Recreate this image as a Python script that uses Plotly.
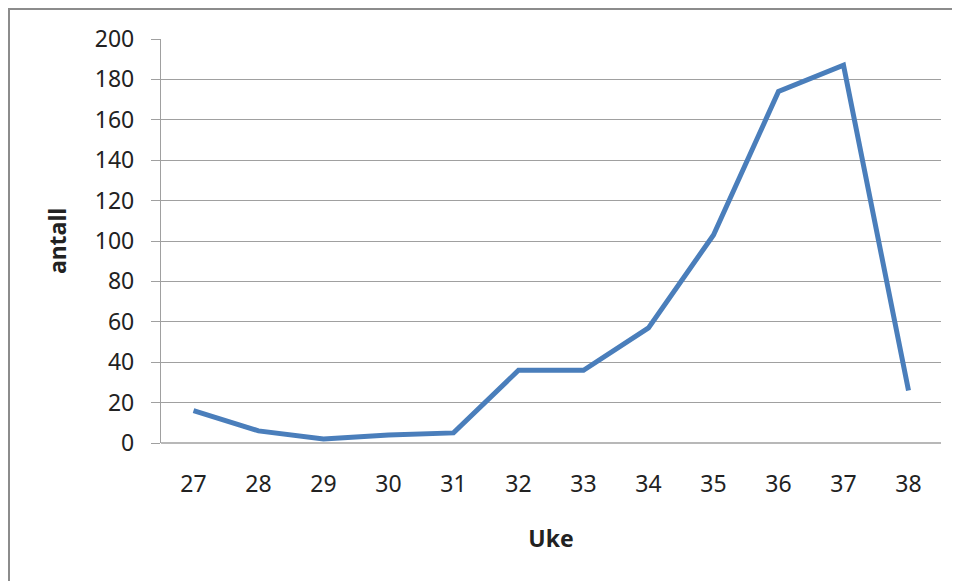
import plotly.graph_objects as go

weeks = ["27", "28", "29", "30", "31", "32", "33", "34", "35", "36", "37", "38"]
antall = [16, 6, 2, 4, 5, 36, 36, 57, 103, 174, 187, 26]
y_ticks = [0, 20, 40, 60, 80, 100, 120, 140, 160, 180, 200]

# the page body adds an 8px offset; margins compensate for it
W, H = 960, 581
OFF = 8
L, R, T, B = 161 - OFF, 27, 39 - OFF, 146
pw, ph = W - L - R, H - T - B

def px_x(px):
    return (px - OFF - L) / pw

def px_y(py):
    return (H - B - (py - OFF)) / ph

fig = go.Figure()
fig.add_trace(go.Scatter(
    x=weeks, y=antall, mode="lines",
    line=dict(color="#4A7EBB", width=5),
    showlegend=False,
))

font = dict(family="Noto Sans, DejaVu Sans, sans-serif", size=23, color="#222222")

fig.update_layout(
    width=W, height=H,
    margin=dict(l=L, r=R, t=T, b=B, autoexpand=False),
    paper_bgcolor="white", plot_bgcolor="white",
    font=font,
    xaxis=dict(
        type="category", range=[-0.5, 11.5], automargin=False,
        showgrid=False, zeroline=False,
        showline=False, ticks="", ticklabelstandoff=25,
        title=dict(text="<b>Uke</b>", standoff=32, font=dict(size=23)),
    ),
    yaxis=dict(
        range=[0, 200], tickvals=y_ticks, automargin=False,
        showgrid=True, gridcolor="#A0A0A0", gridwidth=1.3,
        zeroline=False, showline=True, linecolor="#A0A0A0", linewidth=1.3,
        ticks="outside", ticklen=9, tickcolor="#A0A0A0", tickwidth=1.3,
        ticklabelstandoff=12,
        title=dict(text="<b>antall</b>", standoff=21, font=dict(size=23)),
    ),
    shapes=[
        dict(type="rect", xref="paper", yref="paper",
             x0=px_x(9), x1=px_x(958), y0=px_y(595), y1=px_y(9),
             line=dict(color="#8C8C8C", width=2), fillcolor="rgba(0,0,0,0)",
             layer="below"),
        dict(type="line", xref="paper", yref="paper",
             x0=0, x1=1, y0=0, y1=0,
             line=dict(color="#A0A0A0", width=1.3)),
    ],
)

fig.write_html("out.html")
